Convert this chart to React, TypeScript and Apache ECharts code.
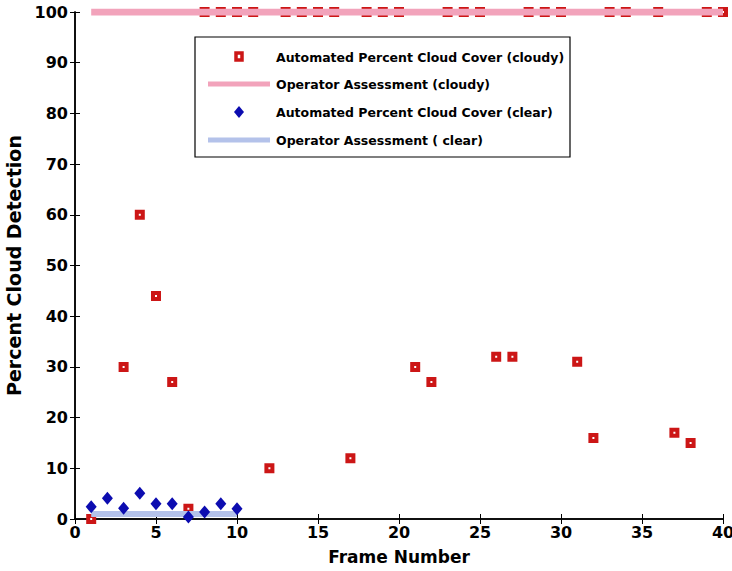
import React, { useEffect, useRef } from "react";
import * as echarts from "echarts";

const cloudyFrames = [1, 3, 4, 5, 6, 7, 8, 9, 10, 11, 12, 13, 14, 15, 16, 17, 18, 19, 20, 21, 22, 23, 24, 25, 26, 27, 28, 29, 30, 31, 32, 33, 34, 36, 37, 38, 39, 40];
const cloudyValues = [0, 30, 60, 44, 27, 2, 100, 100, 100, 100, 10, 100, 100, 100, 100, 12, 100, 100, 100, 30, 27, 100, 100, 100, 32, 32, 100, 100, 100, 31, 16, 100, 100, 100, 17, 15, 100, 100];
const operatorCloudyFrames = [1, 40];
const operatorCloudyValues = [100, 100];
const clearFrames = [1, 2, 3, 4, 5, 6, 7, 8, 9, 10];
const clearValues = [2.4, 4.1, 2.1, 5.1, 3, 3, 0.4, 1.4, 3, 2];
const operatorClearFrames = [1, 10];
const operatorClearValues = [1, 1];
const xTicks = [0, 5, 10, 15, 20, 25, 30, 35, 40];
const yTicks = [0, 10, 20, 30, 40, 50, 60, 70, 80, 90, 100];

const NAMES = [
  "Automated Percent Cloud Cover (cloudy)",
  "Operator Assessment (cloudy)",
  "Automated Percent Cloud Cover (clear)",
  "Operator Assessment ( clear)",
];

const FONT = "DejaVu Sans";
const RED = "#cc1616";
const PINK = "#f2a3bb";
const BLUE = "#0c0cb0";
const LIGHTBLUE = "#b4c2ea";

export default function App() {
  const ref = useRef<HTMLDivElement>(null);
  useEffect(() => {
    if (!ref.current) return;
    const chart = echarts.init(ref.current, null, { renderer: "svg" });
    const zip = (a: number[], b: number[]) => a.map((v, i) => [v, b[i]]);
    const axisCommon = {
      axisLine: { show: true, lineStyle: { color: "#000", width: 1.5 } },
      axisTick: { show: true, inside: true, length: 5, lineStyle: { color: "#000", width: 1 } },
      splitLine: { show: false },
    };

    // legend drawn as graphic elements
    const LX = 195, LY = 37, LW = 375, LH = 120;
    const rowY = [57, 84, 112, 140];
    const iconL = 208, iconR = 270, iconC = 239, textX = 276;
    const legendText = (i: number) => ({
      type: "text",
      z: 21,
      style: {
        text: NAMES[i],
        x: textX,
        y: rowY[i],
        verticalAlign: "middle",
        align: "left",
        fontFamily: FONT,
        fontWeight: "bold",
        fontSize: 12.5,
        fill: "#000",
      },
    });

    chart.setOption({
      animation: false,
      backgroundColor: "#fff",
      grid: { left: 75, right: 9, top: 12, bottom: 52, outerBoundsMode: "none" },
      xAxis: [
        {
          type: "value",
          min: xTicks[0],
          max: xTicks[xTicks.length - 1],
          interval: 5,
          position: "bottom",
          ...axisCommon,
          axisLabel: { margin: 5, fontFamily: FONT, fontWeight: "bold", fontSize: 16, color: "#000" },
          name: "Frame Number",
          nameLocation: "middle",
          nameGap: 29,
          nameTextStyle: { fontFamily: FONT, fontWeight: "bold", fontSize: 17, color: "#000" },
        },
        {
          type: "value",
          min: xTicks[0],
          max: xTicks[xTicks.length - 1],
          interval: 5,
          position: "top",
          ...axisCommon,
          axisLabel: { show: false },
        },
      ],
      yAxis: [
        {
          type: "value",
          min: yTicks[0],
          max: yTicks[yTicks.length - 1],
          interval: 10,
          position: "left",
          ...axisCommon,
          axisLabel: { margin: 7, fontFamily: FONT, fontWeight: "bold", fontSize: 16, color: "#000" },
          name: "Percent Cloud Detection",
          nameLocation: "middle",
          nameGap: 46,
          nameRotate: 90,
          nameTextStyle: { fontFamily: FONT, fontWeight: "bold", fontSize: 19, color: "#000" },
        },
        {
          type: "value",
          min: yTicks[0],
          max: yTicks[yTicks.length - 1],
          interval: 10,
          position: "right",
          ...axisCommon,
          axisLabel: { show: false },
        },
      ],
      graphic: [
        {
          type: "rect",
          z: 20,
          shape: { x: LX, y: LY, width: LW, height: LH },
          style: { fill: "#fff", stroke: "#000", lineWidth: 1.2 },
        },
        {
          type: "rect",
          z: 21,
          shape: { x: iconC - 3, y: rowY[0] - 4, width: 6, height: 7 },
          style: { fill: "#fff", stroke: RED, lineWidth: 3.5 },
        },
        {
          type: "line",
          z: 21,
          shape: { x1: iconL, y1: rowY[1], x2: iconR, y2: rowY[1] },
          style: { stroke: PINK, lineWidth: 5 },
        },
        {
          type: "polygon",
          z: 21,
          shape: {
            points: [
              [iconC, rowY[2] - 6],
              [iconC + 5, rowY[2]],
              [iconC, rowY[2] + 6],
              [iconC - 5, rowY[2]],
            ],
          },
          style: { fill: BLUE },
        },
        {
          type: "line",
          z: 21,
          shape: { x1: iconL, y1: rowY[3], x2: iconR, y2: rowY[3] },
          style: { stroke: LIGHTBLUE, lineWidth: 5 },
        },
        legendText(0),
        legendText(1),
        legendText(2),
        legendText(3),
      ],
      series: [
        {
          name: NAMES[0],
          type: "scatter",
          symbol: "rect",
          symbolSize: 6,
          data: zip(cloudyFrames, cloudyValues),
          itemStyle: { color: "#fff", borderColor: RED, borderWidth: 4, opacity: 1 },
          z: 2,
        },
        {
          name: NAMES[1],
          type: "line",
          data: zip(operatorCloudyFrames, operatorCloudyValues),
          showSymbol: false,
          symbol: "none",
          lineStyle: { color: PINK, width: 7 },
          itemStyle: { color: PINK },
          z: 3,
        },
        {
          name: NAMES[3],
          type: "line",
          data: zip(operatorClearFrames, operatorClearValues),
          showSymbol: false,
          symbol: "none",
          lineStyle: { color: LIGHTBLUE, width: 6 },
          itemStyle: { color: LIGHTBLUE },
          z: 3,
        },
        {
          name: NAMES[2],
          type: "scatter",
          symbol: "diamond",
          symbolSize: [11, 13],
          data: zip(clearFrames, clearValues),
          itemStyle: { color: BLUE, opacity: 1 },
          z: 4,
        },
      ],
    });
    return () => chart.dispose();
  }, []);
  return <div ref={ref} style={{ width: 732, height: 571, position: "absolute", left: 0, top: 0 }} />;
}
